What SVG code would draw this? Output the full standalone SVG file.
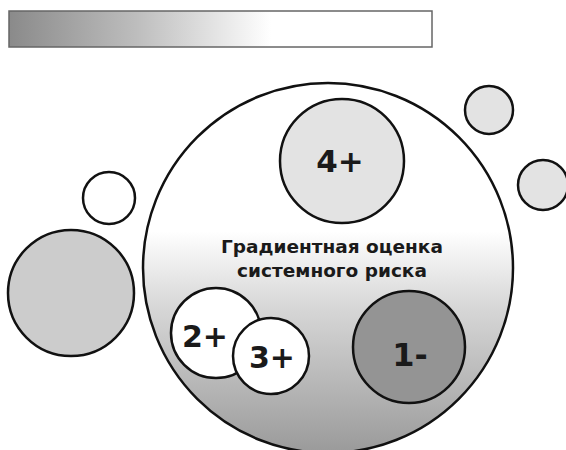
<svg xmlns="http://www.w3.org/2000/svg" width="566" height="450" viewBox="0 0 566 450">
<defs>
<linearGradient id="bar" x1="0" y1="0" x2="1" y2="0">
<stop offset="0" stop-color="#8a8a8a"/>
<stop offset="0.3" stop-color="#bdbdbd"/>
<stop offset="0.62" stop-color="#ffffff"/>
<stop offset="1" stop-color="#ffffff"/>
</linearGradient>
<linearGradient id="big" x1="0" y1="0" x2="0" y2="1">
<stop offset="0" stop-color="#ffffff"/>
<stop offset="0.4" stop-color="#ffffff"/>
<stop offset="0.6" stop-color="#d8d8d8"/>
<stop offset="1" stop-color="#9a9a9a"/>
</linearGradient>
<style>
.c{stroke:#111;stroke-width:2.5}
.t{font-family:"DejaVu Sans",sans-serif;font-weight:bold;fill:#1a1a1a;text-anchor:middle}
</style>
</defs>
<rect x="9" y="11" width="423" height="36" fill="url(#bar)" stroke="#666" stroke-width="1.5"/>
<g id="big-circle">
<circle cx="328" cy="268" r="185" fill="url(#big)" class="c"/>
<text class="t" x="332" y="253" font-size="18.5">Градиентная оценка</text>
<text class="t" x="332" y="277" font-size="18.5">системного риска</text>
</g>
<g id="n4">
<circle cx="342" cy="161" r="62" fill="#e3e3e3" class="c"/>
<text class="t" x="340" y="172" font-size="31">4+</text>
</g>
<g id="n1">
<circle cx="409" cy="347" r="56" fill="#949494" class="c"/>
<text class="t" x="410" y="366" font-size="32">1-</text>
</g>
<g id="n2">
<circle cx="216" cy="333" r="45" fill="#ffffff" class="c"/>
<text class="t" x="205" y="347" font-size="30">2+</text>
</g>
<g id="n3">
<circle cx="271" cy="356" r="38" fill="#ffffff" class="c"/>
<text class="t" x="272" y="368" font-size="30">3+</text>
</g>
<g id="left-grey"><circle cx="71" cy="293" r="63" fill="#cccccc" class="c"/></g>
<g id="left-white"><circle cx="109" cy="198" r="26" fill="#ffffff" class="c"/></g>
<g id="right-top"><circle cx="489" cy="110" r="24" fill="#e3e3e3" class="c"/></g>
<g id="right-mid"><circle cx="543" cy="185" r="25" fill="#e3e3e3" class="c"/></g>
<g id="connectors"/>
</svg>
